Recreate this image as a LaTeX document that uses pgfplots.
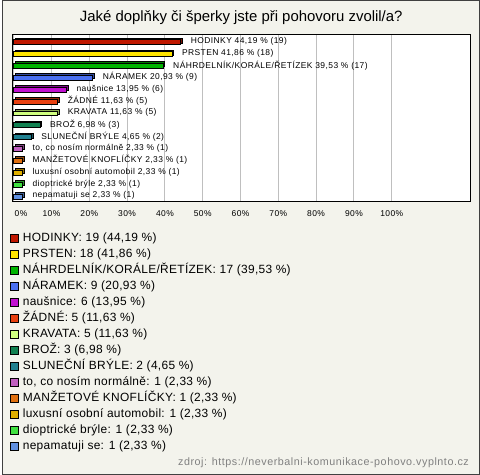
\documentclass[border=0pt]{standalone}
\usepackage{pgfplots}
\pgfplotsset{compat=1.18}
\usepackage{fontspec}
\setmainfont{Liberation Sans}
\newfontfamily\lsf{Liberation Sans}[LetterSpace=5]
\newfontfamily\lgf{Liberation Sans}[LetterSpace=2.5]
\definecolor{bgc}{HTML}{F3F3EC}
\definecolor{framec}{HTML}{404040}
\definecolor{c1}{HTML}{C01800}
\definecolor{c2}{HTML}{FFE400}
\definecolor{c3}{HTML}{00B400}
\definecolor{c4}{HTML}{4A70F0}
\definecolor{c5}{HTML}{C010D0}
\definecolor{c6}{HTML}{E84010}
\definecolor{c7}{HTML}{D0FF80}
\definecolor{c8}{HTML}{108050}
\definecolor{c9}{HTML}{208090}
\definecolor{c10}{HTML}{C060C0}
\definecolor{c11}{HTML}{E07010}
\definecolor{c12}{HTML}{E0B000}
\definecolor{c13}{HTML}{40E040}
\definecolor{c14}{HTML}{6090E0}
\pgfplotsset{
  shad/.style={fill=#1!65!black, draw=black, line width=0.7pt, xshift=1.6pt, yshift=0.9pt, forget plot},
  mainb/.style={fill=#1, draw=black, line width=0.7pt, yshift=-0.7pt},
}
\begin{document}
\begin{tikzpicture}
\fill[bgc] (0pt,0pt) rectangle (480pt,477pt);
\draw[framec, line width=1pt] (0.5pt,0.5pt) rectangle (479.5pt,476.5pt);
\node[font=\fontsize{15}{17}\selectfont] at (240pt,459pt) {Jaké doplňky či šperky jste při pohovoru zvolil/a?};
\node[anchor=base east, text=gray, font=\lsf\fontsize{10.8}{12}\selectfont, inner sep=0pt] at (469pt,9.3pt) {zdroj: https://neverbalni-komunikace-pohovo.vyplnto.cz};
\begin{axis}[
  at={(10pt,274pt)}, anchor=south west, scale only axis,
  width=460.7pt, height=168pt,
  xmin=-0.34, xmax=120.9, ymin=-0.56, ymax=13.53, y dir=reverse,
  xbar, bar width=5pt, bar shift=0pt,
  axis background/.style={fill=white},
  axis line style={black, line width=1pt},
  xtick={0,10,...,100},
  xticklabels={\hspace*{14.8pt}0\%,10\%,20\%,30\%,40\%,50\%,60\%,70\%,80\%,90\%,100\%},
  xmajorgrids, grid style={black!25, line width=1pt},
  ytick=\empty, major tick length=0pt,
  xticklabel style={font=\lsf\fontsize{8.5}{10}\selectfont, inner sep=0pt, anchor=center, yshift=-12pt},
  every node near coord/.append style={anchor=west, inner sep=0pt, xshift=9.8pt, yshift=0.7pt, font=\lsf\fontsize{8.5}{10}\selectfont, text=black},
  clip=false,
  legend style={at={(-0.0065,-0.176)}, anchor=north west, draw=none, fill=none, inner sep=0pt,
    row sep=3.1pt, column sep=4.5pt,
    nodes={inner sep=0pt, text height=10pt, text depth=3pt, font=\lgf\fontsize{12}{14}\selectfont}},
  legend cell align=left,
  legend image code/.code={\draw[#1, draw=black, line width=0.8pt, xshift=0pt, yshift=0pt] (0pt,-3.4pt) rectangle (8pt,4.6pt);},
]
\addplot[shad=c1] coordinates {(44.19,0)};
\addplot[mainb=c1, nodes near coords={HODINKY 44,19 \% (19)}] coordinates {(44.19,0)};
\addlegendentry{HODINKY: 19 (44,19 \%)}
\addplot[shad=c2] coordinates {(41.86,1)};
\addplot[mainb=c2, nodes near coords={PRSTEN 41,86 \% (18)}] coordinates {(41.86,1)};
\addlegendentry{PRSTEN: 18 (41,86 \%)}
\addplot[shad=c3] coordinates {(39.53,2)};
\addplot[mainb=c3, nodes near coords={NÁHRDELNÍK/KORÁLE/ŘETÍZEK 39,53 \% (17)}] coordinates {(39.53,2)};
\addlegendentry{NÁHRDELNÍK/KORÁLE/ŘETÍZEK: 17 (39,53 \%)}
\addplot[shad=c4] coordinates {(20.93,3)};
\addplot[mainb=c4, nodes near coords={NÁRAMEK 20,93 \% (9)}] coordinates {(20.93,3)};
\addlegendentry{NÁRAMEK: 9 (20,93 \%)}
\addplot[shad=c5] coordinates {(13.95,4)};
\addplot[mainb=c5, nodes near coords={naušnice 13,95 \% (6)}] coordinates {(13.95,4)};
\addlegendentry{naušnice: 6 (13,95 \%)}
\addplot[shad=c6] coordinates {(11.63,5)};
\addplot[mainb=c6, nodes near coords={ŽÁDNÉ 11,63 \% (5)}] coordinates {(11.63,5)};
\addlegendentry{ŽÁDNÉ: 5 (11,63 \%)}
\addplot[shad=c7] coordinates {(11.63,6)};
\addplot[mainb=c7, nodes near coords={KRAVATA 11,63 \% (5)}] coordinates {(11.63,6)};
\addlegendentry{KRAVATA: 5 (11,63 \%)}
\addplot[shad=c8] coordinates {(6.98,7)};
\addplot[mainb=c8, nodes near coords={BROŽ 6,98 \% (3)}] coordinates {(6.98,7)};
\addlegendentry{BROŽ: 3 (6,98 \%)}
\addplot[shad=c9] coordinates {(4.65,8)};
\addplot[mainb=c9, nodes near coords={SLUNEČNÍ BRÝLE 4,65 \% (2)}] coordinates {(4.65,8)};
\addlegendentry{SLUNEČNÍ BRÝLE: 2 (4,65 \%)}
\addplot[shad=c10] coordinates {(2.33,9)};
\addplot[mainb=c10, nodes near coords={to, co nosím normálně 2,33 \% (1)}] coordinates {(2.33,9)};
\addlegendentry{to, co nosím normálně: 1 (2,33 \%)}
\addplot[shad=c11] coordinates {(2.33,10)};
\addplot[mainb=c11, nodes near coords={MANŽETOVÉ KNOFLÍČKY 2,33 \% (1)}] coordinates {(2.33,10)};
\addlegendentry{MANŽETOVÉ KNOFLÍČKY: 1 (2,33 \%)}
\addplot[shad=c12] coordinates {(2.33,11)};
\addplot[mainb=c12, nodes near coords={luxusní osobní automobil 2,33 \% (1)}] coordinates {(2.33,11)};
\addlegendentry{luxusní osobní automobil: 1 (2,33 \%)}
\addplot[shad=c13] coordinates {(2.33,12)};
\addplot[mainb=c13, nodes near coords={dioptrické brýle 2,33 \% (1)}] coordinates {(2.33,12)};
\addlegendentry{dioptrické brýle: 1 (2,33 \%)}
\addplot[shad=c14] coordinates {(2.33,13)};
\addplot[mainb=c14, nodes near coords={nepamatuji se 2,33 \% (1)}] coordinates {(2.33,13)};
\addlegendentry{nepamatuji se: 1 (2,33 \%)}
\end{axis}
\end{tikzpicture}
\end{document}
